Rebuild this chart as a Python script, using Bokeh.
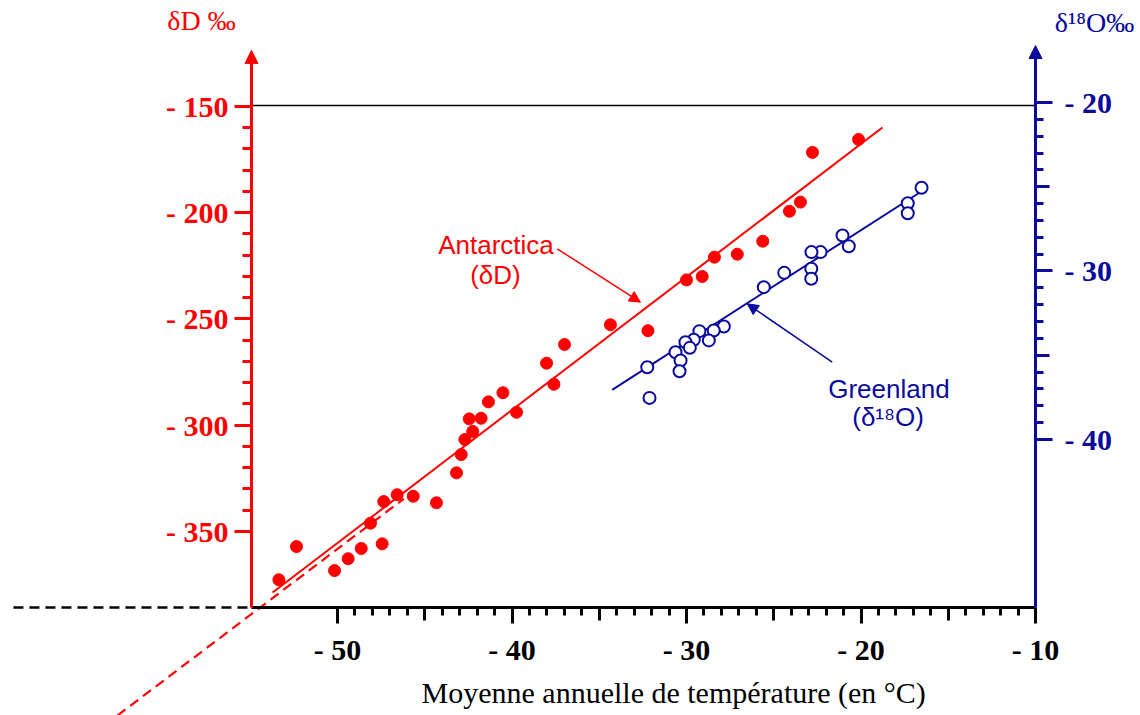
from bokeh.plotting import figure
from bokeh.models import Range1d, LinearAxis, FixedTicker, Label, Arrow, NormalHead
from bokeh.embed import file_html
from bokeh.resources import INLINE

RED = "#ff0000"
BLUE = "#0a0a9c"
BLACK = "#000000"

# ---------------- data ----------------
# Antarctica: mean annual temperature (°C) vs deltaD (permil)
ant_temp = [-53.36, -52.35, -50.17, -49.39, -48.64, -48.11, -47.44, -47.35, -46.58,
            -45.66, -44.33, -43.18, -42.91, -42.70, -42.25, -42.45, -41.77, -41.35,
            -40.52, -39.74, -38.02, -37.60, -36.99, -34.36, -32.21, -30.00, -29.10,
            -28.40, -27.09, -25.63, -24.10, -23.47, -22.78, -20.14]
ant_dD = [-372.7, -357.1, -368.4, -362.8, -358.0, -346.1, -355.8, -335.9, -332.7,
          -333.4, -336.5, -322.4, -313.8, -306.7, -302.9, -297.0, -296.7, -289.0,
          -284.7, -293.9, -270.8, -280.7, -262.0, -252.7, -255.5, -231.6, -230.0,
          -220.9, -219.5, -213.4, -199.3, -195.0, -171.6, -165.5]

# Greenland: mean annual temperature (°C) vs delta18O (permil)
grl_temp = [-16.53, -17.32, -17.32, -21.06, -20.70, -22.32, -22.84, -22.85, -22.85,
            -24.40, -25.57, -27.86, -28.44, -28.72, -29.26, -29.58, -30.06, -29.81,
            -30.63, -30.34, -30.40, -32.25, -32.12]
grl_d18O = [-25.06, -25.98, -26.57, -27.89, -28.53, -28.88, -28.88, -29.87, -30.46,
            -30.11, -30.96, -33.29, -33.53, -34.12, -33.57, -34.08, -34.23, -34.56,
            -34.82, -35.31, -35.95, -35.71, -37.53]

# regression lines (end points)
ant_fit_temp = [-53.72, -18.77]
ant_fit_dD = [-378.7, -159.9]
ant_ext_temp = [-62.61, -46.20]
ant_ext_dD = [-436.6, -334.6]
grl_fit_temp = [-34.26, -16.30]
grl_fit_d18O = [-37.05, -25.12]

# ticks and labels
x_ticks = [-50, -40, -30, -20, -10]
x_labels = ["- 50", "- 40", "- 30", "- 20", "- 10"]
x_minor = list(range(-50, -10))
x_mid = [-45, -35, -25, -15]

dD_ticks = [-350, -300, -250, -200, -150]
dD_labels = ["- 350", "- 300", "- 250", "- 200", "- 150"]
dD_minor = list(range(-350, -150, 10))

o18_ticks = [-40, -30, -20]
o18_labels = ["- 40", "- 30", "- 20"]
o18_minor = list(range(-40, -20))
o18_mid = [-35, -25]

x_title = "Moyenne annuelle de température  (en °C)"
dD_title = "δD ‰"
o18_title = "δ¹⁸O‰"

# ---------------- layout geometry ----------------
T_LEFT = -54.93      # temperature at the left (deltaD) axis
T_RIGHT = -10.0      # temperature at the right (delta18O) axis
D_BOTTOM = -385.8    # deltaD at the temperature axis
O_BOTTOM = -50.0     # delta18O at the temperature axis
D_TOPLINE = -149.5
D_TIP = -123.6
O_TIP = -16.62

p = figure(width=1140, height=715,
           x_range=Range1d(-69.313, -3.983), y_range=Range1d(-436.59, -100.12),
           output_backend="svg", toolbar_location=None, title=None,
           x_axis_location=None, y_axis_location=None, min_border=0,
           outline_line_color=None, background_fill_color="white",
           border_fill_color="white")
p.extra_y_ranges = {"o18": Range1d(-56.380, -13.947)}
p.grid.visible = False

SERIF = "Liberation Serif"
SANS = "Liberation Sans"
LBL_SIZE = "30px"

# left axis (deltaD)
left = LinearAxis(fixed_location=T_LEFT, bounds=(D_BOTTOM, -125.0),
                  ticker=FixedTicker(ticks=dD_ticks, minor_ticks=dD_minor),
                  major_label_overrides=dict(zip(dD_ticks, dD_labels)),
                  axis_line_color=RED, axis_line_width=3,
                  major_tick_line_color=RED, major_tick_line_width=3,
                  major_tick_in=0, major_tick_out=17,
                  minor_tick_line_color=RED, minor_tick_line_width=3,
                  minor_tick_in=0, minor_tick_out=9,
                  major_label_standoff=6,
                  major_label_text_color=RED, major_label_text_font=SERIF,
                  major_label_text_font_style="bold", major_label_text_font_size=LBL_SIZE)
p.add_layout(left, "left")

# bottom axis (temperature)
bottom = LinearAxis(fixed_location=D_BOTTOM, bounds=(T_LEFT, T_RIGHT),
                    ticker=FixedTicker(ticks=x_ticks, minor_ticks=x_minor),
                    major_label_overrides=dict(zip(x_ticks, x_labels)),
                    axis_line_color=BLACK, axis_line_width=3,
                    major_tick_line_color=BLACK, major_tick_line_width=3,
                    major_tick_in=0, major_tick_out=16,
                    minor_tick_line_color=BLACK, minor_tick_line_width=3,
                    minor_tick_in=0, minor_tick_out=8,
                    major_label_standoff=9,
                    major_label_text_color=BLACK, major_label_text_font=SERIF,
                    major_label_text_font_style="bold", major_label_text_font_size=LBL_SIZE)
p.add_layout(bottom, "below")

bottom_mid = LinearAxis(fixed_location=D_BOTTOM, bounds=(T_LEFT, T_RIGHT),
                        ticker=FixedTicker(ticks=x_mid, minor_ticks=[]),
                        major_label_overrides={t: "" for t in x_mid},
                        axis_line_color=None,
                        major_tick_line_color=BLACK, major_tick_line_width=3,
                        major_tick_in=0, major_tick_out=13,
                        minor_tick_line_color=None)
p.add_layout(bottom_mid, "below")

# right axis (delta18O)
right = LinearAxis(y_range_name="o18", fixed_location=T_RIGHT, bounds=(O_BOTTOM, -17.2),
                   ticker=FixedTicker(ticks=o18_ticks, minor_ticks=o18_minor),
                   major_label_overrides=dict(zip(o18_ticks, o18_labels)),
                   axis_line_color=BLUE, axis_line_width=3,
                   major_tick_line_color=BLUE, major_tick_line_width=3,
                   major_tick_in=0, major_tick_out=17,
                   minor_tick_line_color=BLUE, minor_tick_line_width=3,
                   minor_tick_in=0, minor_tick_out=8,
                   major_label_standoff=12,
                   major_label_text_color=BLUE, major_label_text_font=SERIF,
                   major_label_text_font_style="bold", major_label_text_font_size=LBL_SIZE)
p.add_layout(right, "right")

right_mid = LinearAxis(y_range_name="o18", fixed_location=T_RIGHT, bounds=(O_BOTTOM, -17.2),
                       ticker=FixedTicker(ticks=o18_mid, minor_ticks=[]),
                       major_label_overrides={t: "" for t in o18_mid},
                       axis_line_color=None,
                       major_tick_line_color=BLUE, major_tick_line_width=3,
                       major_tick_in=0, major_tick_out=14,
                       minor_tick_line_color=None)
p.add_layout(right_mid, "right")

# axis arrow heads
p.add_layout(Arrow(end=NormalHead(size=13, fill_color=RED, line_color=RED, line_width=1),
                   x_start=T_LEFT, y_start=-127.0, x_end=T_LEFT, y_end=D_TIP,
                   line_color=RED, line_width=3))
p.add_layout(Arrow(end=NormalHead(size=13, fill_color=BLUE, line_color=BLUE, line_width=1),
                   x_start=T_RIGHT, y_start=-17.4, x_end=T_RIGHT, y_end=O_TIP,
                   line_color=BLUE, line_width=3, y_range_name="o18"))

# top frame line and dashed extension of temperature axis
p.line([T_LEFT, T_RIGHT], [D_TOPLINE, D_TOPLINE], color=BLACK, line_width=1.5)
p.line([-68.57, T_LEFT], [D_BOTTOM, D_BOTTOM], color=BLACK, line_width=2.5, line_dash="10 6")

# regression lines
p.line(ant_ext_temp, ant_ext_dD, color=RED, line_width=2.2, line_dash="10 6")
p.line(ant_fit_temp, ant_fit_dD, color=RED, line_width=2)
p.line(grl_fit_temp, grl_fit_d18O, color=BLUE, line_width=2, y_range_name="o18")

# data points
p.scatter(ant_temp, ant_dD, size=12, fill_color=RED, line_color=RED, marker="circle")
p.scatter(grl_temp, grl_d18O, size=12, fill_color="white", line_color=BLUE,
          line_width=2, marker="circle", y_range_name="o18")

# annotation labels and arrows
p.add_layout(Label(x=-40.92, y=-215.4, text="Antarctica", text_align="center",
                   text_baseline="alphabetic", text_color=RED, text_font=SANS,
                   text_font_size="26px"))
p.add_layout(Label(x=-40.95, y=-229.1, text="(δD)", text_align="center",
                   text_baseline="alphabetic", text_color=RED, text_font=SANS,
                   text_font_size="26px"))
p.add_layout(Arrow(end=NormalHead(size=11, fill_color=RED, line_color=RED, line_width=1),
                   x_start=-37.41, y_start=-216.96, x_end=-32.64, y_end=-242.1,
                   line_color=RED, line_width=1.5))

p.add_layout(Label(x=-18.40, y=-36.99, text="Greenland", text_align="center",
                   text_baseline="alphabetic", text_color=BLUE, text_font=SANS,
                   text_font_size="26px", y_range_name="o18"))
p.add_layout(Label(x=-18.45, y=-38.69, text="(δ¹⁸O)", text_align="center",
                   text_baseline="alphabetic", text_color=BLUE, text_font=SANS,
                   text_font_size="26px", y_range_name="o18"))
p.add_layout(Arrow(end=NormalHead(size=11, fill_color=BLUE, line_color=BLUE, line_width=1),
                   x_start=-21.65, y_start=-35.41, x_end=-26.52, y_end=-31.95,
                   line_color=BLUE, line_width=1.5, y_range_name="o18"))

# axis titles
p.add_layout(Label(x=-57.79, y=-109.5, text=dD_title, text_align="center",
                   text_baseline="middle", text_color=RED, text_font=SERIF,
                   text_font_size="28px"))
p.add_layout(Label(x=-6.62, y=-15.25, text=o18_title, text_align="center",
                   text_baseline="middle", text_color=BLUE, text_font=SERIF,
                   text_font_size="28px", y_range_name="o18"))
p.add_layout(Label(x=-30.52, y=-425.8, text=x_title, text_align="center",
                   text_baseline="middle", text_color=BLACK, text_font=SERIF,
                   text_font_size="30px"))

open("out.html", "w").write(file_html(p, INLINE))
